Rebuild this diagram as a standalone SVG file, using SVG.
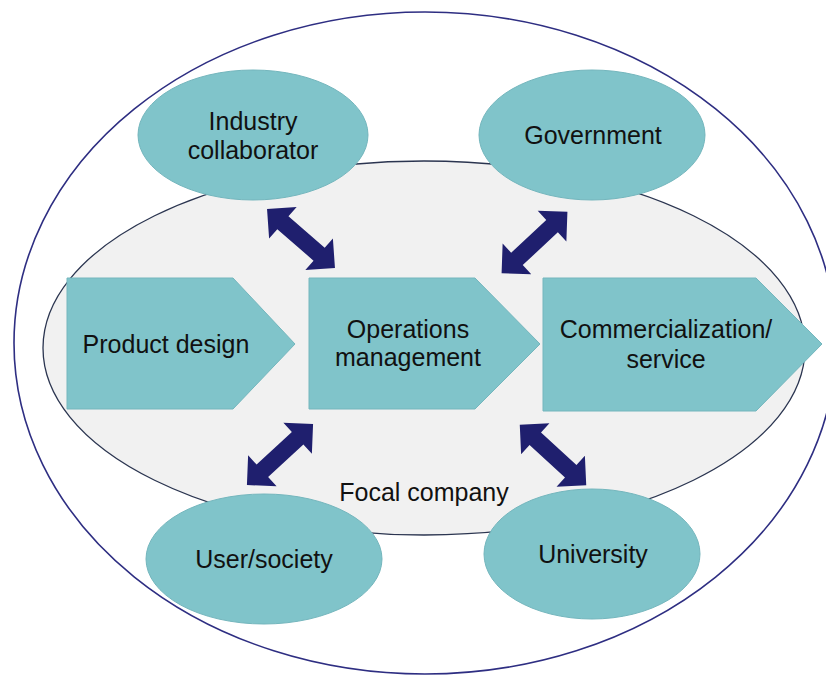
<svg xmlns="http://www.w3.org/2000/svg" width="826" height="675" viewBox="0 0 826 675">
<style>
.lbl{font-family:"Liberation Sans",Arial,sans-serif;font-size:25px;fill:#111;text-anchor:middle}
.teal{fill:#80c4ca;stroke:#74b6bd;stroke-width:1}
.arr{fill:#1f1f6e}
</style>
<defs>
<path id="dbl" d="M-45,0 L-24,-21 L-24,-8.5 L24,-8.5 L24,-21 L45,0 L24,21 L24,8.5 L-24,8.5 L-24,21 Z"/>
</defs>
<rect width="826" height="675" fill="#fff"/>
<g id="outer"><ellipse cx="425" cy="343" rx="411" ry="331" fill="#fff" stroke="#2e2e82" stroke-width="1.6"/></g>
<g id="focal-company">
<ellipse cx="424" cy="348" rx="381" ry="187" fill="#f1f1f1" stroke="#2b3550" stroke-width="1.3"/>
<text class="lbl" x="424" y="501">Focal company</text>
</g>
<g id="product-design">
<polygon class="teal" points="67,278 233,278 295,344 233,409 67,409"/>
<text class="lbl" x="166" y="353">Product design</text>
</g>
<g id="operations-management">
<polygon class="teal" points="309,278 475,278 540,344 475,409 309,409"/>
<text class="lbl" x="408" y="338">Operations</text>
<text class="lbl" x="408" y="366">management</text>
</g>
<g id="commercialization">
<polygon class="teal" points="543,278 756,278 822,344 756,411 543,411"/>
<text class="lbl" x="666" y="338">Commercialization/</text>
<text class="lbl" x="666" y="368">service</text>
</g>
<g id="industry-collaborator">
<ellipse class="teal" cx="253" cy="135" rx="115" ry="65"/>
<text class="lbl" x="253" y="130">Industry</text>
<text class="lbl" x="253" y="159">collaborator</text>
</g>
<g id="government">
<ellipse class="teal" cx="592" cy="135" rx="113" ry="65"/>
<text class="lbl" x="593" y="144">Government</text>
</g>
<g id="user-society">
<ellipse class="teal" cx="264" cy="559" rx="118" ry="65"/>
<text class="lbl" x="264" y="568">User/society</text>
</g>
<g id="university">
<ellipse class="teal" cx="592" cy="554" rx="108" ry="65"/>
<text class="lbl" x="593" y="563">University</text>
</g>
<g id="connectors">
<use href="#dbl" class="arr" transform="translate(301,238.5) rotate(41)"/>
<use href="#dbl" class="arr" transform="translate(534.5,242.5) rotate(-43)"/>
<use href="#dbl" class="arr" transform="translate(280,454.5) rotate(-42.7)"/>
<use href="#dbl" class="arr" transform="translate(553,455) rotate(42.4)"/>
</g>
</svg>
